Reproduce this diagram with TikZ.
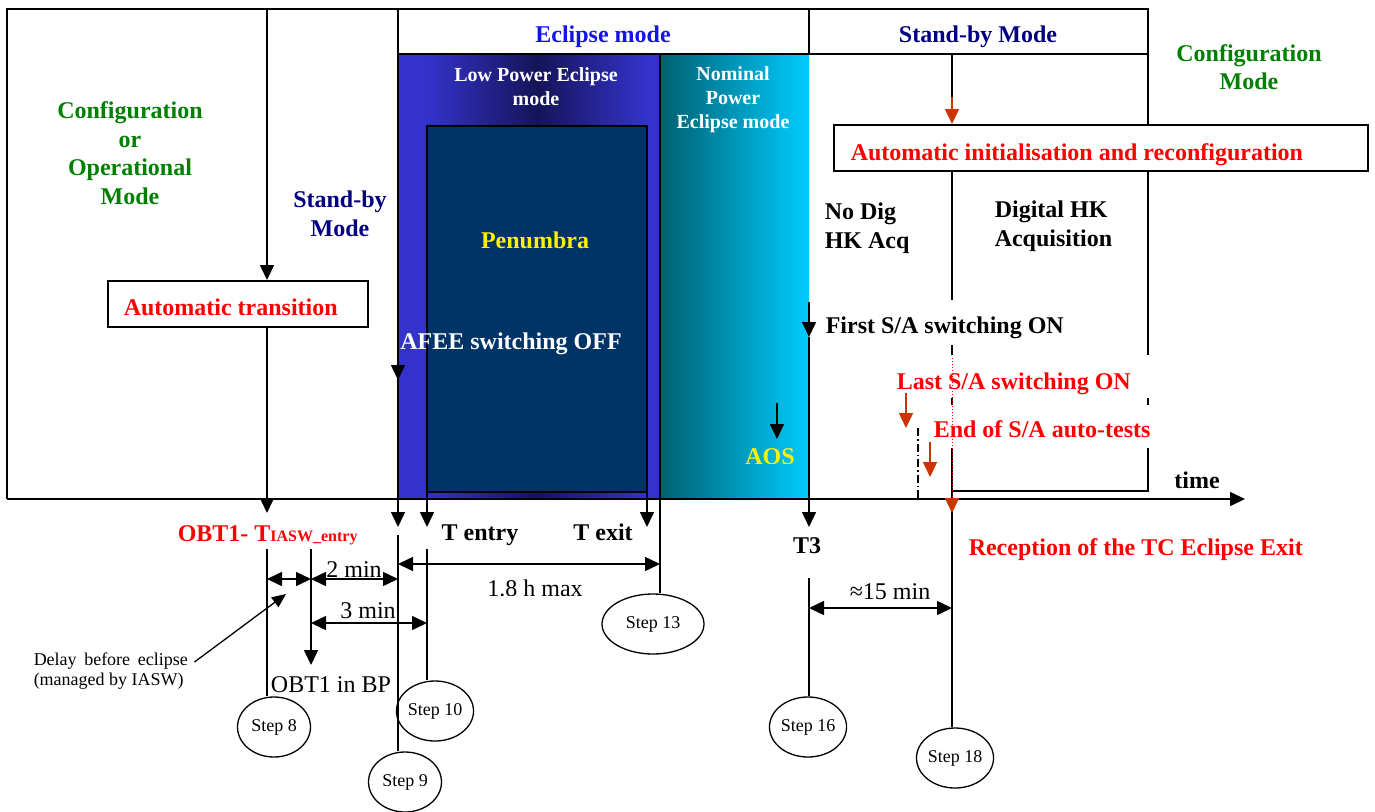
\documentclass[tikz,border=0pt]{standalone}
\usepackage{fontspec}
\setmainfont{Liberation Serif}
\usepackage{graphicx}
\usetikzlibrary{arrows.meta,shapes.geometric}

\definecolor{modered}{RGB}{255,0,0}
\definecolor{arrowred}{RGB}{204,51,0}
\definecolor{modegreen}{RGB}{0,128,0}
\definecolor{sbnavy}{RGB}{0,0,128}
\definecolor{eclblue}{RGB}{20,20,230}
\definecolor{lpblue}{RGB}{51,51,204}
\definecolor{lpdark}{RGB}{22,20,88}
\definecolor{penumbrafill}{RGB}{0,51,102}
\definecolor{npteal}{RGB}{0,96,112}
\definecolor{npcyan}{RGB}{0,204,255}

\tikzset{
  big/.style={font=\fontsize{24}{28.5}\selectfont\bfseries, inner sep=0pt},
  mid/.style={font=\fontsize{20}{24}\selectfont\bfseries, inner sep=0pt},
  plain/.style={font=\fontsize{24}{28}\selectfont, inner sep=0pt},
  stepnode/.style={ellipse, draw, line width=1.3pt, fill=white,
    font=\fontsize{18}{20}\selectfont, minimum width=73pt, minimum height=60pt, inner sep=0pt},
  tip/.style={-{Triangle[length=15pt,width=14pt]}},
  redtip/.style={-{Triangle[length=15pt,width=14pt]}, draw=arrowred, fill=arrowred},
  dim/.style={{Triangle[length=15pt,width=14pt]}-{Triangle[length=15pt,width=14pt]}},
  whitebox/.style={big, fill=white},
  labelbox/.style={big, draw=black, text=modered, fill=white, inner ysep=0pt,
    align=flush left, anchor=north west},
}

\begin{document}
\begin{tikzpicture}[x=1pt,y=-1pt,line width=1.5pt]
\useasboundingbox (0,0) rectangle (1375,811);

% ---- eclipse band: low power part, penumbra, nominal power part
\fill[lpblue] (398,54) rectangle (660,499);
\shade[left color=lpblue,right color=lpblue,middle color=lpdark] (427,54) rectangle (647,499);
\draw[fill=penumbrafill] (427,126) rectangle (647,492);
\shade[left color=npteal,right color=npcyan] (660,54) rectangle (809,499);

% ---- frame and mode headers
\draw (7,499) -- (7,9) -- (1148,9);
\draw (398,9) rectangle (809,54);
\draw (809,9) rectangle (1148,54);
\draw (1148,54) -- (1148,124);
\coordinate (sbline) at (952,54);
\coordinate (cfgline) at (267,9);

% ---- boxes
\node[labelbox, text width=228pt, inner xsep=16pt, text height=35pt, text depth=11pt]
  (autotrans) at (107,280) {Automatic transition};
\node[labelbox, text width=500pt, inner xsep=17pt, text height=36pt, text depth=10pt]
  (autoinit) at (833,124) {Automatic initialisation and reconfiguration};

% ---- vertical event lines
\draw[tip] (cfgline) -- (cfgline |- autotrans.north);
\draw[tip] (cfgline |- autotrans.south) -- (267,513);
\draw (398,9) -- (398,499);
\draw[tip] (398,350) -- (398,380);
\draw[tip] (398,499) -- (398,527);
\draw[tip] (427,492) -- (427,527);
\draw[tip] (647,492) -- (647,527);
\draw[tip] (809,302) -- (809,337);
\draw[tip] (809,337) -- (809,527);

\draw (sbline) -- (952,97);
\draw[redtip] (952,97) -- (sbline |- autoinit.north);
\draw (sbline |- autoinit.south) -- (952,499);
\draw (1148,170) -- (1148,491) -- (952,491);

% ---- texts in the upper part
\node[big, text=modegreen, align=flush center] (cfgop) at (130,153) {Configuration\\or\\Operational\\Mode};
\node[big, text=sbnavy, align=flush center] (sbleft) at (340,214) {Stand-by\\Mode};
\node[big, text=eclblue] (eclhdr) at (603,37) {Eclipse mode};
\node[big, text=sbnavy] (sbhdr) at (978,37) {Stand-by Mode};
\node[big, text=modegreen, align=flush center] (cfgright) at (1249,67) {Configuration\\Mode};
\node[mid, text=white, align=flush center] (lptxt) at (536,87) {Low Power Eclipse\\mode};
\node[mid, text=white, align=flush center] (nptxt) at (733,100) {Nominal\\Power\\Eclipse mode};
\node[big, text=yellow] (pentxt) at (535,240) {Penumbra};
\node[big, text=white] (afee) at (511,344) {AFEE switching OFF};
\begin{scope}
  \clip (740,440) rectangle (800,463);
  \node[big, text=yellow] (aos) at (770,457) {AOS};
\end{scope}
\draw[tip] (777,403) -- (777,439);
\node[big, align=flush left, anchor=west] (nodig) at (824,228) {No Dig\\HK Acq};
\node[big, align=flush left, anchor=west] (dighk) at (994,226) {Digital HK\\Acquisition};

\node[whitebox, anchor=base west, inner xsep=2pt, text height=33pt, text depth=12pt] (firstsa) at (823,333) {First S/A switching ON};
\node[whitebox, text=modered, anchor=base west, inner xsep=18pt, text height=34pt, text depth=9pt] (lastsa) at (878,389) {Last S/A switching ON};
\node[whitebox, text=modered, anchor=base west, inner xsep=3pt, text height=32pt, text depth=11pt] (endsa) at (930,437) {End of S/A auto-tests};

\draw[red, dotted, line width=1pt] (952,358) -- (952,499);
\draw[dash pattern=on 8pt off 3pt on 1.5pt off 3pt, line width=1.3pt] (918,428) -- (918,499);
\draw[redtip] (906,393) -- (906,428);
\draw[redtip] (930,442) -- (930,477);

% ---- time axis
\draw[-{Triangle[length=15pt,width=14pt]}] (7,499) -- (1245,499);
\node[big] (timelbl) at (1197,480) {time};

% ---- step bubbles
\node[stepnode] (step8) at (274,727) {Step 8};
\node[stepnode] (step9) at (405,782) {Step 9};
\node[stepnode] (step10) at (435,711) {Step 10};
\node[stepnode, minimum width=102pt] (step13) at (653,624) {Step 13};
\node[stepnode] (step16) at (808,727) {Step 16};
\node[stepnode] (step18) at (955,758) {Step 18};

\draw (267,549) coordinate (l8) -- (l8 |- step8.north);
\draw (398,535) coordinate (l9) -- (l9 |- step9.north);
\draw (427,549) coordinate (l10) -- (l10 |- step10.north);
\draw (660,54) coordinate (l13) -- (l13 |- step13.north);
\draw (809,578) coordinate (l16) -- (l16 |- step16.north);
\draw (952,499) coordinate (l18) -- (l18 |- step18.north);
\draw[redtip] (l18) -- (952,513);
\draw[tip] (311,549) -- (311,665);

% ---- durations
\draw[dim] (267,579) -- (311,579);
\draw[dim] (311,579) -- (398,579);
\draw[dim] (311,623) -- (427,623);
\draw[dim] (398,564) -- (660,564);
\draw[dim] (809,608) -- (952,608);

\node[plain] (twomin) at (354,570) {2 min};
\node[plain] (threemin) at (368,611) {3 min};
\begin{scope}
  \clip (480,572) rectangle (595,595);
  \node[plain] (maxdur) at (535,588) {1.8 h max};
\end{scope}
\node[plain] (fifteen) at (890,592) {≈15 min};
\node[plain] (obtbp) at (331,685) {OBT1 in BP};

% ---- labels under the axis
\node[big, text=modered, anchor=base west] (obt) at (177,541)
  {OBT1- T{\fontsize{16}{18}\selectfont IASW\_entry}};
\node[big, anchor=base] (tentry) at (480,540) {T entry};
\node[big, anchor=base] (texit) at (603,540) {T exit};
\node[big] (t3) at (807,546) {T3};
\node[big, text=modered, anchor=base west] (tcexit) at (968,555) {Reception of the TC Eclipse Exit};

\node[font=\fontsize{18}{20.5}\selectfont, align=flush left, anchor=west, inner sep=0pt] (delay) at (33,671)
  {\makebox[154pt][s]{Delay before eclipse}\\(managed by IASW)};
\coordinate (delaytip) at (286,594);
\draw[-{Triangle[length=14pt,width=12pt]}, line width=1.3pt] ([xshift=6pt,yshift=9pt]delay.east) -- (delaytip);
\end{tikzpicture}
\end{document}
